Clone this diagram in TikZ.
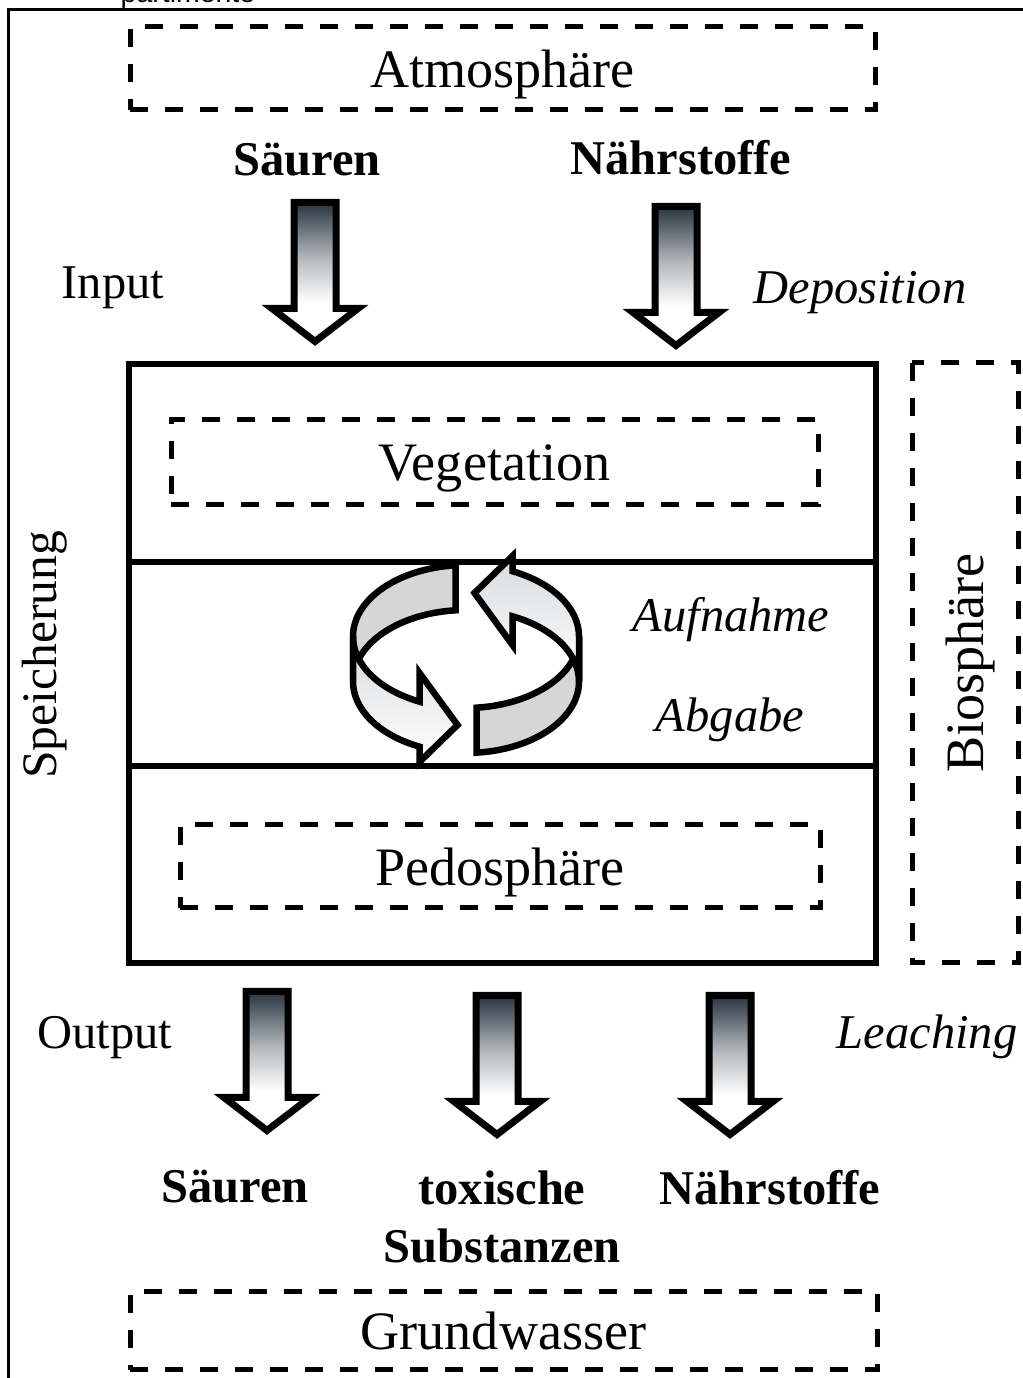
\documentclass[tikz,border=0pt]{standalone}
\usepackage{fontspec}
\setmainfont{Liberation Serif}
\newfontfamily\capfont{Liberation Sans}
\usetikzlibrary{shadings}

\definecolor{slate}{RGB}{40,52,64}
\definecolor{ringgray}{RGB}{214,214,214}
\pgfdeclareverticalshading{arrowfade}{100bp}{color(0bp)=(white); color(25bp)=(white); color(39bp)=(white); color(55bp)=(slate!35!white); color(75bp)=(slate); color(100bp)=(slate)}

\begin{document}
\begin{tikzpicture}[font=\fontsize{13.8}{16.5}\selectfont,
	dashbox/.style={draw, dash pattern=on 0.18cm off 0.17cm, line width=0.05cm, inner sep=0pt, text depth=0pt, font=\fontsize{15.4}{18}\selectfont},
	blockarrow/.style={draw, shade, shading=arrowfade, line width=0.07cm},
	ring/.style={draw, line width=0.065cm},
	bold/.style={font=\fontsize{13.8}{16.5}\selectfont\bfseries, align=center},
	flow/.style={font=\fontsize{13.8}{16.5}\selectfont\itshape}]

	\useasboundingbox (0,0) rectangle (10.23,13.78);

	% frame and cut caption
	\draw[line width=0.03cm] (0.09,-0.5) -- (0.09,13.68) -- (10.8,13.68);
	\node[anchor=base west, inner sep=0pt, font=\capfont\fontsize{8.1}{9}\selectfont] (caption) at (1.20,13.75) {partimente};

	% compartments
	\draw[line width=0.06cm] (1.29,4.15) rectangle (8.76,10.14);
	\draw[line width=0.06cm] (1.29,8.16) -- (8.76,8.16);
	\draw[line width=0.06cm] (1.29,6.12) -- (8.76,6.12);

	\node[dashbox, minimum width=7.45cm, minimum height=0.83cm] (atmo) at (5.025,13.095) {Atmosphäre};
	\node[dashbox, minimum width=6.47cm, minimum height=0.85cm] (veg) at (4.945,9.155) {Vegetation};
	\node[dashbox, minimum width=6.40cm, minimum height=0.83cm] (pedo) at (5.00,5.115) {Pedosphäre};
	\node[dashbox, rotate=90, minimum width=6.00cm, minimum height=1.06cm] (bio) at (9.65,7.15) {Biosphäre};
	\node[dashbox, minimum width=7.47cm, minimum height=0.78cm] (grund) at (5.035,0.47) {Grundwasser};
	\node[rotate=90, font=\fontsize{14.1}{17}\selectfont] (store) at (0.45,7.23) {Speicherung};

	% input
	\node[bold] (acidin) at (3.07,12.18) {Säuren};
	\node[bold] (nutrin) at (6.81,12.20) {Nährstoffe};
	\node (input) at (1.13,10.90) {Input};
	\node[flow] (depo) at (8.60,10.85) {Deposition};

	% cycle
	\node[flow] (uptake) at (7.31,7.58) {Aufnahme};
	\node[flow] (release) at (7.30,6.58) {Abgabe};
	\foreach \r in {0,180}{
		\begin{scope}[shift={(4.66,7.19)}, rotate=\r]
			\draw[ring, fill=ringgray] (-0.105,0.937) arc[start angle=95.33, end angle=180, x radius=1.13, y radius=0.715] -- (-1.13,-0.225) arc[start angle=180, end angle=95.33, x radius=1.13, y radius=0.715] -- cycle;
			\draw[ring, top color=slate!18!white, bottom color=white] (-1.13,0.225) arc[start angle=180, end angle=245.7, x radius=1.13, y radius=0.715] -- (-0.465,-0.14) -- (-0.085,-0.66) -- (-0.465,-1.03) -- (-0.465,-0.877) arc[start angle=245.7, end angle=180, x radius=1.13, y radius=0.715] -- cycle;
		\end{scope}
	}

	% output
	\node (output) at (1.05,3.40) {Output};
	\node[flow] (leach) at (9.27,3.41) {Leaching};
	\node[bold] (acidout) at (2.35,1.91) {Säuren};
	\node[bold] (toxout) at (5.02,1.615) {toxische\\Substanzen};
	\node[bold] (nutrout) at (7.70,1.90) {Nährstoffe};

	% flux arrows
	\foreach \x/\y in {3.15/11.755, 6.76/11.715, 2.67/3.865, 4.97/3.825, 7.30/3.825}
		\draw[blockarrow] (\x-0.21,\y) -- (\x+0.21,\y) -- (\x+0.21,\y-1.06) -- (\x+0.43,\y-1.06) -- (\x,\y-1.39) -- (\x-0.43,\y-1.06) -- (\x-0.21,\y-1.06) -- cycle;

\end{tikzpicture}
\end{document}
